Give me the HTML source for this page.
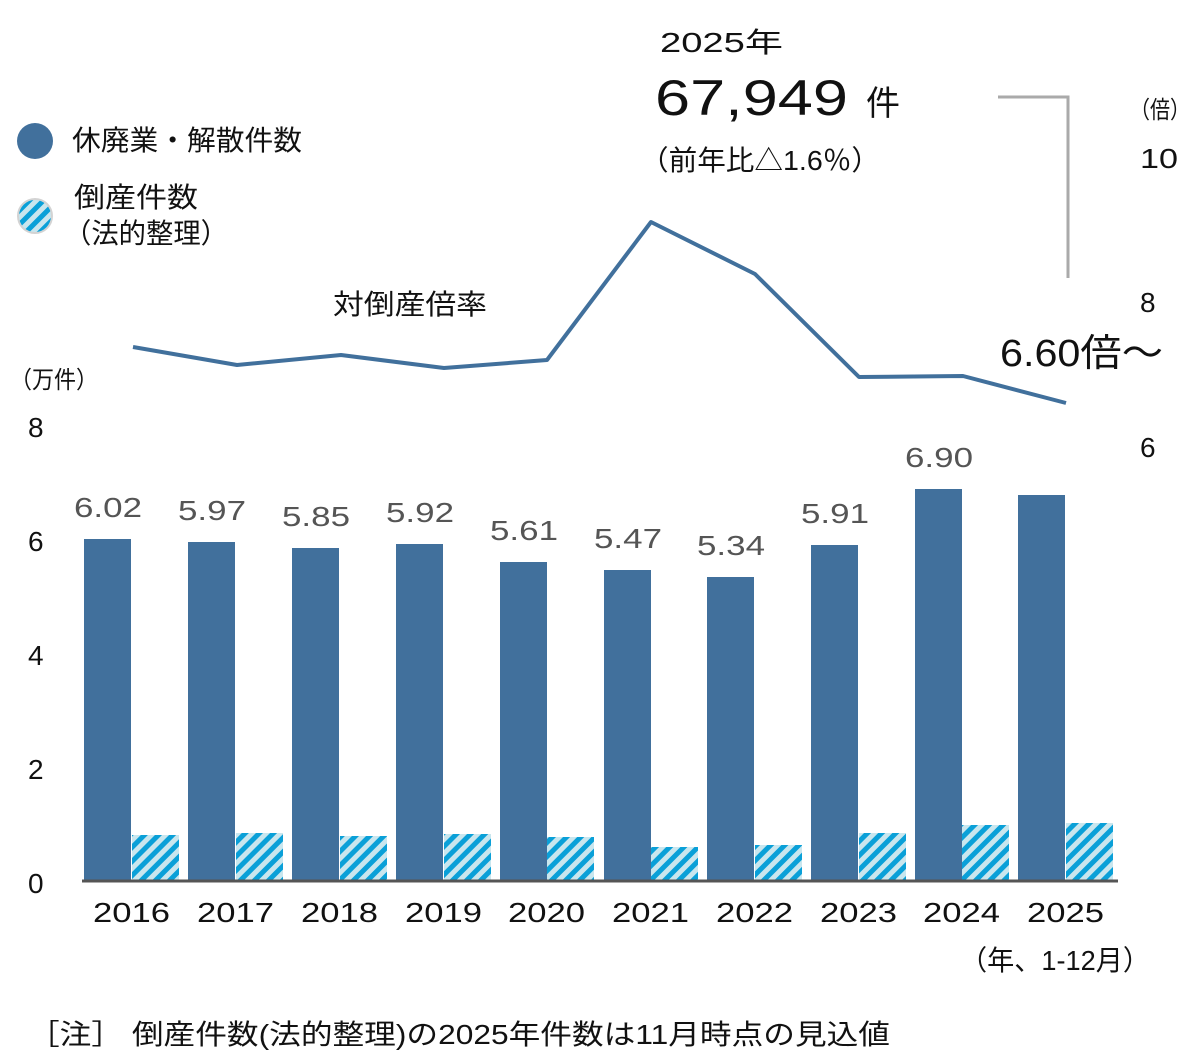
<!DOCTYPE html>
<html><head><meta charset="utf-8"><style>
html,body{margin:0;padding:0;background:#fff;}
svg{display:block;font-family:"Liberation Sans","Noto Sans CJK JP",sans-serif;}
</style></head><body>
<svg width="1200" height="1059" viewBox="0 0 1200 1059" xmlns="http://www.w3.org/2000/svg">
<defs>
<pattern id="h" patternUnits="userSpaceOnUse" width="10" height="10" patternTransform="rotate(-45)">
<rect width="10" height="10" fill="#c9e6ee"/>
<rect width="10" height="5" fill="#0aa0d8"/>
</pattern>
</defs>
<!-- legend -->
<circle cx="35" cy="141" r="18" fill="#41709c"/>
<circle cx="35" cy="216" r="17" fill="url(#h)" stroke="#d3d3d3" stroke-width="2"/>
<text x="72" y="150" font-size="28" fill="#111" textLength="230" lengthAdjust="spacingAndGlyphs">休廃業・解散件数</text>
<text x="74" y="207" font-size="28" fill="#111" textLength="124" lengthAdjust="spacingAndGlyphs">倒産件数</text>
<text x="64" y="243" font-size="28" fill="#111" textLength="164" lengthAdjust="spacingAndGlyphs">（法的整理）</text>
<text x="333" y="314" font-size="28" fill="#111" textLength="154" lengthAdjust="spacingAndGlyphs">対倒産倍率</text>
<!-- top annotation -->
<text x="660" y="52" font-size="28" fill="#111" textLength="123" lengthAdjust="spacingAndGlyphs">2025年</text>
<text x="655" y="115" font-size="50" fill="#111" textLength="193" lengthAdjust="spacingAndGlyphs">67,949</text>
<text x="866" y="115" font-size="34" fill="#111">件</text>
<text x="640" y="170" font-size="28" fill="#111" textLength="240" lengthAdjust="spacingAndGlyphs">（前年比△1.6％）</text>
<polyline points="998,97 1068,97 1068,278" fill="none" stroke="#aaa" stroke-width="3"/>
<!-- right axis -->
<text x="1130" y="118" font-size="24" fill="#111" textLength="60" lengthAdjust="spacingAndGlyphs">（倍）</text>
<text x="1140" y="168" font-size="28" fill="#111" textLength="38" lengthAdjust="spacingAndGlyphs">10</text>
<text x="1140" y="312" font-size="28" fill="#111">8</text>
<text x="1140" y="457" font-size="28" fill="#111">6</text>
<text x="1000" y="366" font-size="38" fill="#111" textLength="163" lengthAdjust="spacingAndGlyphs">6.60倍～</text>
<!-- left axis -->
<text x="10" y="388" font-size="24" fill="#111" textLength="88" lengthAdjust="spacingAndGlyphs">（万件）</text>
<g font-size="28" fill="#111">
<text x="28" y="437">8</text><text x="28" y="551">6</text><text x="28" y="665">4</text><text x="28" y="779">2</text><text x="28" y="893">0</text>
</g>
<!-- bars -->
<g fill="#41709c">
<rect x="84" y="539" width="47" height="342"/>
<rect x="188" y="542" width="47" height="339"/>
<rect x="292" y="548" width="47" height="333"/>
<rect x="396" y="544" width="47" height="337"/>
<rect x="500" y="562" width="47" height="319"/>
<rect x="604" y="570" width="47" height="311"/>
<rect x="707" y="577" width="47" height="304"/>
<rect x="811" y="545" width="47" height="336"/>
<rect x="915" y="489" width="47" height="392"/>
<rect x="1018" y="495" width="47" height="386"/>
</g>
<g fill="url(#h)">
<rect x="132" y="835" width="47" height="46"/>
<rect x="236" y="833" width="47" height="48"/>
<rect x="340" y="836" width="47" height="45"/>
<rect x="444" y="834" width="47" height="47"/>
<rect x="547" y="837" width="47" height="44"/>
<rect x="651" y="847" width="47" height="34"/>
<rect x="755" y="845" width="47" height="36"/>
<rect x="859" y="833" width="47" height="48"/>
<rect x="962" y="825" width="47" height="56"/>
<rect x="1066" y="823" width="47" height="58"/>
</g>
<line x1="82" y1="881" x2="1118" y2="881" stroke="#555" stroke-width="3"/>
<!-- value labels -->
<g font-size="28" fill="#555">
<text x="74" y="517" textLength="68" lengthAdjust="spacingAndGlyphs">6.02</text>
<text x="178" y="520" textLength="68" lengthAdjust="spacingAndGlyphs">5.97</text>
<text x="282" y="526" textLength="68" lengthAdjust="spacingAndGlyphs">5.85</text>
<text x="386" y="522" textLength="68" lengthAdjust="spacingAndGlyphs">5.92</text>
<text x="490" y="540" textLength="68" lengthAdjust="spacingAndGlyphs">5.61</text>
<text x="594" y="548" textLength="68" lengthAdjust="spacingAndGlyphs">5.47</text>
<text x="697" y="555" textLength="68" lengthAdjust="spacingAndGlyphs">5.34</text>
<text x="801" y="523" textLength="68" lengthAdjust="spacingAndGlyphs">5.91</text>
<text x="905" y="467" textLength="68" lengthAdjust="spacingAndGlyphs">6.90</text>
</g>
<!-- x labels -->
<g font-size="28" fill="#111">
<text x="93" y="922" textLength="77" lengthAdjust="spacingAndGlyphs">2016</text>
<text x="197" y="922" textLength="77" lengthAdjust="spacingAndGlyphs">2017</text>
<text x="301" y="922" textLength="77" lengthAdjust="spacingAndGlyphs">2018</text>
<text x="405" y="922" textLength="77" lengthAdjust="spacingAndGlyphs">2019</text>
<text x="508" y="922" textLength="77" lengthAdjust="spacingAndGlyphs">2020</text>
<text x="612" y="922" textLength="77" lengthAdjust="spacingAndGlyphs">2021</text>
<text x="716" y="922" textLength="77" lengthAdjust="spacingAndGlyphs">2022</text>
<text x="820" y="922" textLength="77" lengthAdjust="spacingAndGlyphs">2023</text>
<text x="923" y="922" textLength="77" lengthAdjust="spacingAndGlyphs">2024</text>
<text x="1027" y="922" textLength="77" lengthAdjust="spacingAndGlyphs">2025</text>
</g>
<text x="960" y="970" font-size="28" fill="#111" textLength="190" lengthAdjust="spacingAndGlyphs">（年、1-12月）</text>
<!-- line -->
<polyline points="133,347 237,365 341,355 444,368 547,360 651,222 755,274 859,377 963,376 1066,403" fill="none" stroke="#41709c" stroke-width="4" stroke-linejoin="round"/>
<text x="28" y="1044" font-size="28" fill="#111" textLength="862" lengthAdjust="spacingAndGlyphs">［注］ 倒産件数(法的整理)の2025年件数は11月時点の見込値</text>
</svg>
</body></html>
